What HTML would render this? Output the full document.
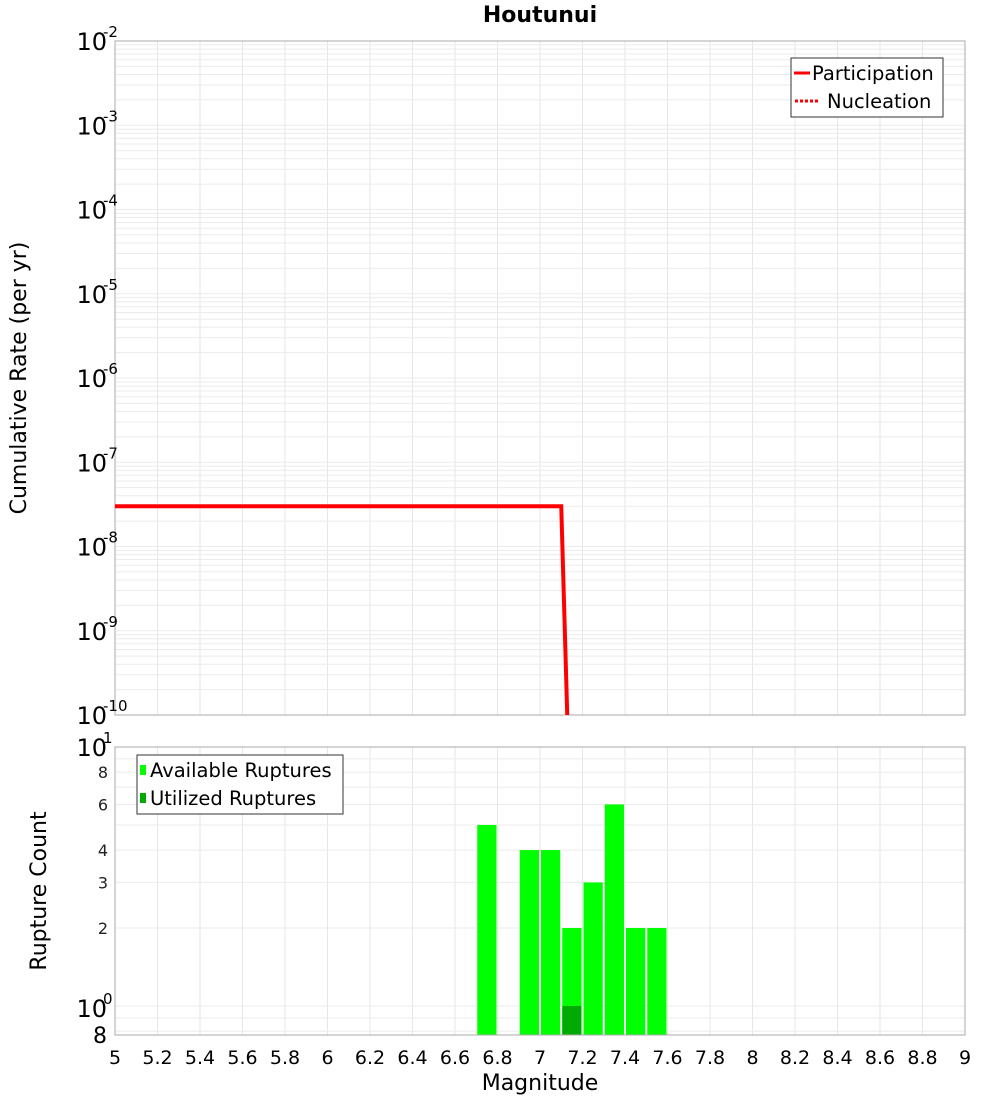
<!DOCTYPE html>
<html><head><meta charset="utf-8"><style>
body{margin:0;background:#fff;}
svg{font-family:"DejaVu Sans","Liberation Sans",sans-serif;}
</style></head><body>
<svg id="chart" width="1000" height="1100" viewBox="0 0 1000 1100" xmlns="http://www.w3.org/2000/svg">
<text x="540" y="22" text-anchor="middle" font-size="22" font-weight="bold">Houtunui</text>
<g id="topplot"></g>
<g id="botplot"></g>
<text transform="translate(26,378) rotate(-90)" text-anchor="middle" font-size="22">Cumulative Rate (per yr)</text>
<text transform="translate(46,891) rotate(-90)" text-anchor="middle" font-size="22">Rupture Count</text>
<text x="540" y="1090" text-anchor="middle" font-size="22">Magnitude</text>
<g>
<rect x="791" y="58" width="152" height="59" fill="#fff" stroke="#333" stroke-width="1"/>
<line x1="794" y1="73" x2="810" y2="73" stroke="#f00" stroke-width="3"/>
<text x="812" y="80" font-size="19.5">Participation</text>
<line x1="795" y1="101" x2="820" y2="101" stroke="#f00" stroke-width="3" stroke-dasharray="3,2"/>
<text x="827" y="108" font-size="19.5">Nucleation</text>
</g>
<g>
<rect x="137" y="755" width="206" height="59" fill="#fff" stroke="#333" stroke-width="1"/>
<rect x="140" y="765" width="6" height="10" fill="#00ff00"/>
<text x="150" y="777" font-size="19.5">Available Ruptures</text>
<rect x="140" y="793" width="6" height="10" fill="#00aa00"/>
<text x="150" y="805" font-size="19.5">Utilized Ruptures</text>
</g>
</svg>
<script>
const xTicks=[5,5.2,5.4,5.6,5.8,6,6.2,6.4,6.6,6.8,7,7.2,7.4,7.6,7.8,8,8.2,8.4,8.6,8.8,9];
const rateDecades=[-2,-3,-4,-5,-6,-7,-8,-9,-10];
const partMag=[5,7.1,7.2];
const partRate=[3e-8,3e-8,5e-17];
const binStart=[6.7,6.9,7.0,7.1,7.2,7.3,7.4,7.5];
const availCount=[5,4,4,2,3,6,2,2];
const utilStart=[7.1];
const utilCount=[1];
const countTicks=[2,3,4,6,8];
const NS="http://www.w3.org/2000/svg";
const X0=115,X1=965;
const xs=m=>X0+(m-5)/4*(X1-X0);
const T0=41,T1=715;
const ys=v=>T0+(-2-Math.log10(v))/8*(T1-T0);
const B0=747,B1=1035;
const yb=v=>B0+(1-Math.log10(v))*259;
function mk(p,tag,a){const e=document.createElementNS(NS,tag);for(const k in a)e.setAttribute(k,a[k]);p.appendChild(e);return e;}
const topG=document.getElementById('topplot'),botG=document.getElementById('botplot');
const defs=mk(document.getElementById('chart'),'defs',{});
const c1=mk(defs,'clipPath',{id:'ct'});mk(c1,'rect',{x:X0,y:T0,width:X1-X0,height:T1-T0});
xTicks.forEach(t=>{const l=mk(topG,'line',{x1:xs(t),x2:xs(t),y1:T0,y2:T1,stroke:'#e6e6e6'});

});
for(let d=-10;d<-2;d++)for(let k=1;k<10;k++){const y=ys(k*Math.pow(10,d));
const l=mk(topG,'line',{x1:X0,x2:X1,y1:y,y2:y,stroke:'#ebebeb'});

}
mk(topG,'rect',{x:X0,y:T0,width:X1-X0,height:T1-T0,fill:'none',stroke:'#aaa'});
rateDecades.forEach(d=>{const y=ys(Math.pow(10,d));
const t=mk(topG,'text',{x:107,y:y+9,'text-anchor':'end','font-size':24});


t.textContent='10';const s=mk(topG,'text',{x:103,y:y-4,'font-size':15});s.textContent=String(d);

});
const pts=partMag.map((m,i)=>xs(m)+','+ys(partRate[i])).join(' ');
const nuc=mk(topG,'polyline',{points:pts,fill:'none',stroke:'#f00','stroke-width':4,'clip-path':'url(#ct)'});


const par=mk(topG,'polyline',{points:pts,fill:'none',stroke:'#f00','stroke-width':3,'clip-path':'url(#ct)'});


xTicks.forEach(t=>{const l=mk(botG,'line',{x1:xs(t),x2:xs(t),y1:B0,y2:B1,stroke:'#e6e6e6'});


const tx=mk(botG,'text',{x:xs(t),y:1064,'text-anchor':'middle','font-size':19});tx.textContent=String(t);

});
[0.8,0.9,1,2,3,4,5,6,7,8,9].forEach(v=>{const y=yb(v);
const l=mk(botG,'line',{x1:X0,x2:X1,y1:y,y2:y,stroke:'#ebebeb'});

});
availCount.forEach((c,i)=>{const x=xs(binStart[i]);
const r=mk(botG,'rect',{x:x+1,y:yb(c),width:xs(binStart[i]+0.1)-x-2,height:B1-yb(c),fill:'#00ff00'});

});
utilCount.forEach((c,i)=>{const x=xs(utilStart[i]);
const r=mk(botG,'rect',{x:x+1,y:yb(c),width:xs(utilStart[i]+0.1)-x-2,height:B1-yb(c),fill:'#00aa00'});

});
mk(botG,'rect',{x:X0,y:B0,width:X1-X0,height:B1-B0,fill:'none',stroke:'#aaa'});
countTicks.forEach(v=>{const t=mk(botG,'text',{x:108,y:yb(v)+6,'text-anchor':'end','font-size':16,fill:'#222'});t.textContent=String(v);

});
[10,1].forEach(v=>{
const t=mk(botG,'text',{x:107,y:(v==10?756:1017),'text-anchor':'end','font-size':24});t.textContent='10';


const s=mk(botG,'text',{x:103,y:(v==10?743:1004),'font-size':15});s.textContent=(v==10?'1':'0');

});
const e8=mk(botG,'text',{x:107,y:1043,'text-anchor':'end','font-size':22});e8.textContent='8';


</script>
</body></html>
